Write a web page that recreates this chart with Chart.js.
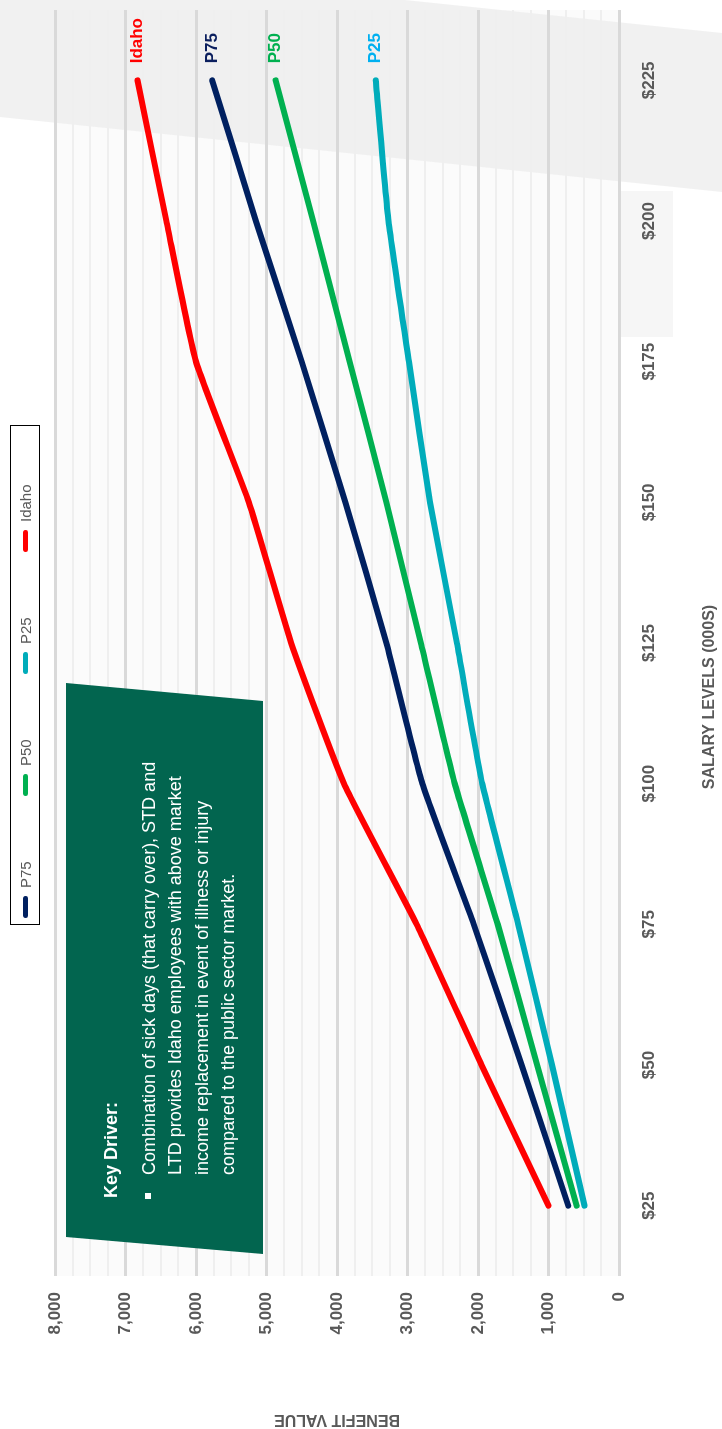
<!DOCTYPE html>
<html>
<head>
<meta charset="utf-8">
<title>Benefit value by salary level</title>
<script src="https://cdn.jsdelivr.net/npm/chart.js@4.4.1/dist/chart.umd.min.js"></script>
<style>
  html, body { margin: 0; padding: 0; background: #fff; overflow: hidden; }
  body { width: 722px; height: 1429px; position: relative; font-family: "Liberation Sans", Arial, sans-serif; }
  /* the slide is laid out landscape and turned a quarter to the left */
  #slide {
    position: absolute; left: 0; top: 0;
    width: 1429px; height: 722px;
    transform-origin: 0 0;
    transform: translate(0, 1429px) rotate(-90deg);
  }
  #chartBox { position: absolute; left: 0; top: 0; width: 1429px; height: 722px; }
  #legend {
    position: absolute; left: 504px; top: 10px; width: 500px; height: 30px;
    box-sizing: border-box; border: 1.5px solid #000; background: #fff;
    display: flex; align-items: center; padding-left: 6px;
    font-size: 15px; color: #595959;
  }
  #legend .item { display: flex; align-items: center; gap: 8px; width: 122px; }
  #legend .swatch { width: 22px; height: 5px; border-radius: 3px; }
</style>
</head>
<body>
<div id="slide">
  <div id="chartBox"><canvas id="benefitChart"></canvas></div>
  <div id="legend"></div>
</div>
<script>
// salary levels (000s) along the bottom axis
const salaryLevels = ['$25', '$50', '$75', '$100', '$125', '$150', '$175', '$200', '$225'];

// benefit value per salary level
const p75Values   = [720, 1380, 2060, 2790, 3300, 3880, 4500, 5150, 5770];
const p50Values   = [600, 1160, 1720, 2330, 2810, 3300, 3820, 4340, 4870];
const p25Values   = [490, 950, 1430, 1940, 2300, 2680, 2980, 3270, 3450];
const idahoValues = [1000, 1950, 2870, 3900, 4650, 5250, 6000, 6420, 6830];

const seriesNames = ['P75', 'P50', 'P25', 'Idaho'];
const seriesValues = [p75Values, p50Values, p25Values, idahoValues];
const lineColors = ['#002060', '#00B050', '#00ACBA', '#FF0000'];
const endLabelColors = ['#0B1F5E', '#00B050', '#00B0F0', '#FF0000'];

// value axis: labelled every 1,000, light lines every 250
const valueMax = 8000;
const majorStep = 1000;
const minorStep = 250;

const noteTitle = 'Key Driver:';
const noteLines = [
    'Combination of sick days (that carry over), STD and',
    'LTD provides Idaho employees with above market',
    'income replacement in event of illness or injury',
    'compared to the public sector market.'
];

const axisGrey = '#595959';

// plot background plus the pale grey band across the far end
const backdrop = {
    id: 'backdrop',
    beforeDraw(chart) {
        const { ctx, chartArea: a, width } = chart;
        ctx.save();
        ctx.fillStyle = '#FBFBFB';
        ctx.fillRect(a.left, a.top, a.right - a.left, a.bottom - a.top);
        ctx.fillStyle = 'rgba(236, 236, 236, 0.75)';
        ctx.beginPath();
        ctx.moveTo(width, 0);
        ctx.lineTo(width, 405);
        ctx.lineTo(width - 33, 722);
        ctx.lineTo(width - 192, 722);
        ctx.lineTo(width - 117, 0);
        ctx.closePath();
        ctx.fill();
        ctx.fillStyle = 'rgba(240, 240, 240, 0.6)';
        ctx.fillRect(width - 337, 620, 146, 53);
        ctx.restore();
    }
};

// green call-out box in the upper left of the plot
const keyDriverNote = {
    id: 'keyDriverNote',
    beforeDatasetsDraw(chart) {
        const { ctx } = chart;
        ctx.save();
        ctx.fillStyle = '#02654F';
        ctx.beginPath();
        ctx.moveTo(192, 66);
        ctx.lineTo(746, 66);
        ctx.lineTo(728, 263);
        ctx.lineTo(175, 263);
        ctx.closePath();
        ctx.fill();

        ctx.fillStyle = '#fff';
        ctx.textBaseline = 'middle';
        ctx.textAlign = 'left';
        ctx.font = 'bold 18px "Liberation Sans", Arial, sans-serif';
        ctx.fillText(noteTitle, 231, 112);
        ctx.fillRect(230, 145, 6, 6);
        ctx.font = '18px "Liberation Sans", Arial, sans-serif';
        noteLines.forEach((line, i) => {
            ctx.fillText(line, 254, 150 + i * 26.5);
        });
        ctx.restore();
    }
};

// series name written just past the last point of each line
const endLabels = {
    id: 'endLabels',
    afterDatasetsDraw(chart) {
        const { ctx } = chart;
        ctx.save();
        ctx.font = 'bold 17px "Liberation Sans", Arial, sans-serif';
        ctx.textBaseline = 'middle';
        ctx.textAlign = 'left';
        chart.data.datasets.forEach((ds, i) => {
            const meta = chart.getDatasetMeta(i);
            const last = meta.data[meta.data.length - 1];
            ctx.fillStyle = endLabelColors[i];
            ctx.fillText(ds.label, last.x + 17, last.y);
        });
        ctx.restore();
    }
};

// salary axis caption, sits a little left of centre
const salaryCaption = {
    id: 'salaryCaption',
    afterDraw(chart) {
        const { ctx } = chart;
        ctx.save();
        ctx.font = 'bold 16px "Liberation Sans", Arial, sans-serif';
        ctx.fillStyle = axisGrey;
        ctx.textAlign = 'center';
        ctx.textBaseline = 'middle';
        ctx.fillText('SALARY LEVELS (000S)', 732, 710);
        ctx.restore();
    }
};

const datasets = seriesNames.map((name, i) => ({
    label: name,
    data: seriesValues[i],
    borderColor: lineColors[i],
    backgroundColor: lineColors[i],
    borderWidth: 6,
    borderCapStyle: 'round',
    borderJoinStyle: 'round',
    pointRadius: 0,
    tension: 0.15,
    fill: false
}));

const chart = new Chart(document.getElementById('benefitChart'), {
    type: 'line',
    data: { labels: salaryLevels, datasets },
    plugins: [backdrop, keyDriverNote, endLabels, salaryCaption],
    options: {
        responsive: true,
        maintainAspectRatio: false,
        animation: false,
        layout: { padding: { top: 55, right: 10, left: 0, bottom: 0 } },
        plugins: {
            legend: { display: false },
            tooltip: { enabled: false }
        },
        scales: {
            x: {
                offset: true,
                grid: { display: false },
                border: { display: false },
                ticks: {
                    color: axisGrey,
                    font: { family: '"Liberation Sans", Arial, sans-serif', size: 17, weight: 'bold' },
                    padding: 12,
                    maxRotation: 0
                },
                afterFit(scale) { scale.height = 103; }
            },
            y: {
                min: 0,
                max: valueMax,
                border: { display: false },
                grid: {
                    drawTicks: false,
                    color: c => (c.tick.value % majorStep === 0 ? '#D9D9D9' : '#EFEFEF'),
                    lineWidth: c => (c.tick.value % majorStep === 0 ? 3 : 2)
                },
                ticks: {
                    stepSize: minorStep,
                    autoSkip: false,
                    color: axisGrey,
                    padding: 16,
                    font: { family: '"Liberation Sans", Arial, sans-serif', size: 17, weight: 'bold' },
                    callback: v => (v % majorStep === 0 ? v.toLocaleString('en-US') : '')
                },
                title: {
                    display: true,
                    text: 'BENEFIT VALUE',
                    color: axisGrey,
                    padding: 0,
                    font: { family: '"Liberation Sans", Arial, sans-serif', size: 16, weight: 'bold' }
                },
                afterFit(scale) { scale.width = 153; }
            }
        }
    }
});

// legend strip built from the same series
const legendEl = document.getElementById('legend');
seriesNames.forEach((name, i) => {
    const item = document.createElement('div');
    item.className = 'item';
    item.innerHTML = `<span class="swatch" style="background:${lineColors[i]}"></span><span>${name}</span>`;
    legendEl.appendChild(item);
});
</script>
</body>
</html>
